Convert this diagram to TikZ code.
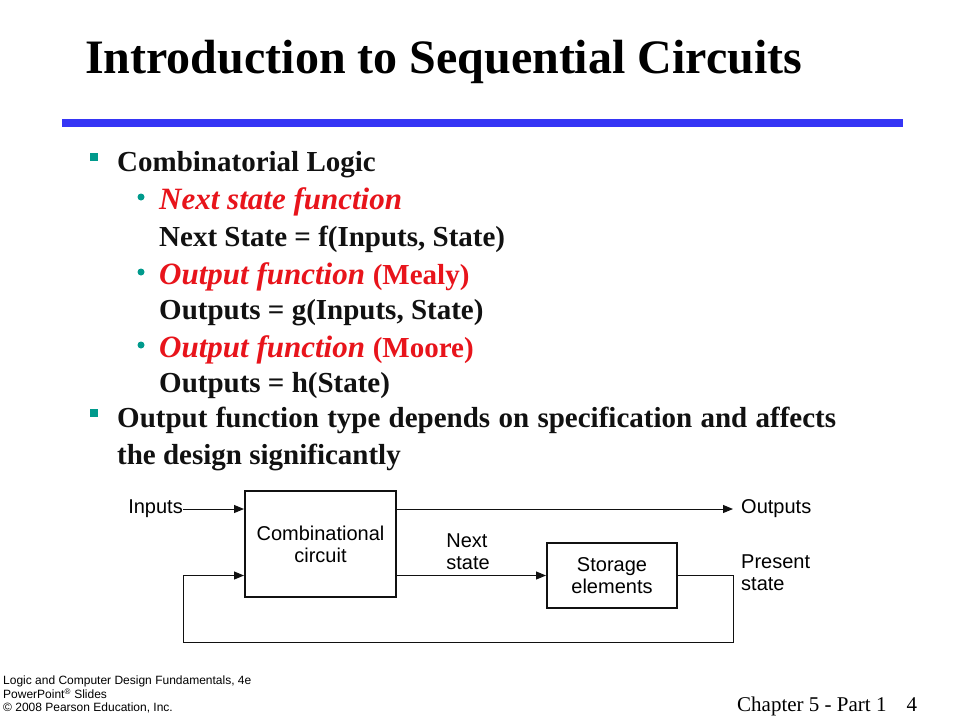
\documentclass[tikz,border=0pt]{standalone}
\usepackage{fontspec}
\setmainfont{Liberation Serif}
\setsansfont{Liberation Sans}
\usepackage{tikz}
\usepackage{xcolor}
\usetikzlibrary{arrows.meta,positioning,calc}
\definecolor{slblue}{HTML}{3535F5}
\definecolor{slteal}{HTML}{009A8C}
\definecolor{slred}{HTML}{E8141B}
\definecolor{slink}{HTML}{111111}
\tikzset{
  textLine/.style={anchor=base west, inner sep=0pt, text=slink, font=\fontsize{29}{33}\selectfont\bfseries},
  redLine/.style={anchor=base west, inner sep=0pt, text=slred, font=\fontsize{31}{35}\selectfont\bfseries\itshape},
  sqBullet/.style={fill=slteal, minimum size=8pt, inner sep=0pt},
  dotBullet/.style={circle, fill=slteal, minimum size=7pt, inner sep=0pt},
  blockBox/.style={draw=slink, line width=2pt, align=center, font=\sffamily\fontsize{20}{22}\selectfont},
  sigLabel/.style={align=left, inner sep=0pt, font=\sffamily\fontsize{20}{22}\selectfont},
  sigArrow/.style={-{Triangle[length=10pt,width=8pt]}, line width=1pt, draw=slink},
  sigLine/.style={line width=1pt, draw=slink}
}
\begin{document}
\begin{tikzpicture}[x=1pt,y=-1pt]
  \useasboundingbox[fill=white] (0,0) rectangle (960,720);

  % title and rule
  \node[anchor=base west, inner sep=0pt, font=\fontsize{48}{52}\selectfont\bfseries] (title) at (85,73) {Introduction to Sequential Circuits};
  \fill[slblue] (62,119) rectangle (903,127);

  % bullet list
  \node[sqBullet] (bA) at (93.5,157) {};
  \node[textLine] (logic) at (117,171) {Combinatorial Logic};
  \node[dotBullet] (bA1) at (141,197) {};
  \node[redLine] (nsf) at (159,209) {Next state function};
  \node[textLine] (nseq) at (159,246) {Next State = f(Inputs, State)};
  \node[dotBullet] (bA2) at (141,272) {};
  \node[redLine] (mealy) at (159,284) {Output function \textup{\fontsize{29}{33}\selectfont(Mealy)}};
  \node[textLine] (geq) at (159,319) {Outputs = g(Inputs, State)};
  \node[dotBullet] (bA3) at (141,345) {};
  \node[redLine] (moore) at (159,357) {Output function \textup{\fontsize{29}{33}\selectfont(Moore)}};
  \node[textLine] (heq) at (159,392) {Outputs = h(State)};
  \node[sqBullet] (bB) at (93.5,413) {};
  \node[textLine] (typeA) at (117,427) {\hbox to 719pt{Output function type depends on specification and affects}};
  \node[textLine] (typeB) at (117,464) {the design significantly};

  % block diagram
  \node[blockBox, minimum width=151pt, minimum height=106pt] (comb) at (320.5,544) {Combinational\\circuit};
  \node[blockBox, minimum width=130pt, minimum height=65pt] (store) at (612,575.5) {Storage\\elements};
  \node[sigLabel, anchor=east] (inp) at (183,509) {Inputs};
  \node[sigLabel, anchor=west] (outp) at (741,509) {Outputs};
  \node[sigLabel, anchor=south] (nxt) at (468,570) {Next\\state};
  \node[sigLabel, anchor=west] (pres) at (741,573) {Present\\state};
  \coordinate (fbA) at (733,577);
  \coordinate (fbB) at (733,642);
  \coordinate (fbC) at (183,642);
  \coordinate (fbD) at (183,577);

  \draw[sigArrow] (inp.east) -- (inp.east -| comb.west);
  \draw[sigArrow] (comb.east |- outp.west) -- ($(outp.west)+(-8,0)$);
  \draw[sigArrow] (comb.east |- store.west) -- (store.west);
  \draw[sigLine] (store.east) -- (fbA |- store.east) -- (fbB) -- (fbC) -- (fbD |- store.west);
  \draw[sigArrow] (fbD |- store.west) -- (comb.west |- store.west);

  % footer
  \node[anchor=north west, align=left, inner sep=0pt, font=\sffamily\fontsize{12}{13.5}\selectfont] (src) at (3,676) {Logic and Computer Design Fundamentals, 4e\\PowerPoint\textsuperscript{®} Slides\\© 2008 Pearson Education, Inc.};
  \node[anchor=base west, inner sep=0pt, font=\fontsize{21}{24}\selectfont] (chap) at (737,711) {Chapter 5 - Part 1\hspace{20pt}4};
\end{tikzpicture}
\end{document}
